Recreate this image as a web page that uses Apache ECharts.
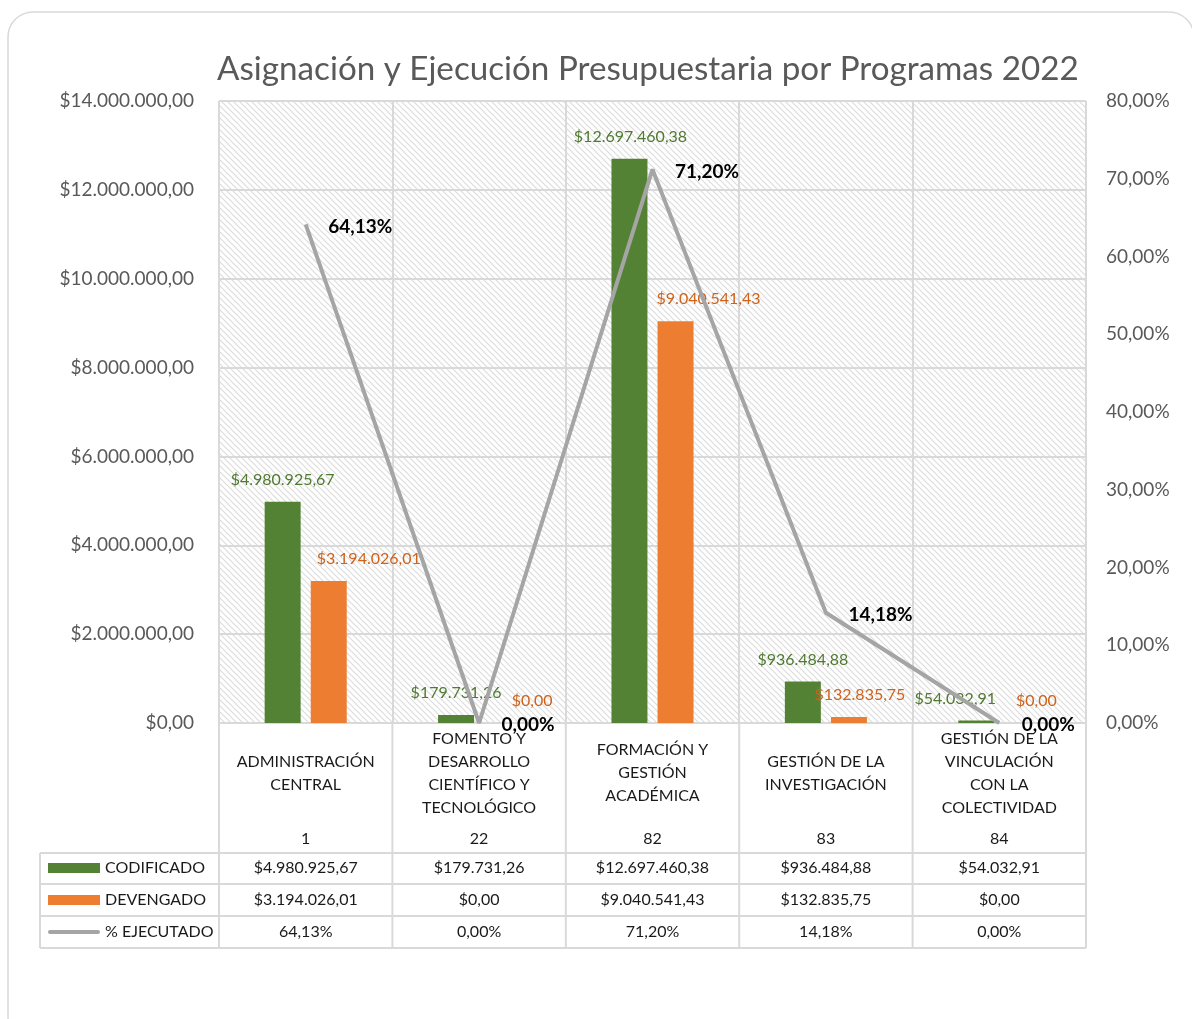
<!DOCTYPE html>
<html>
<head>
<meta charset="utf-8">
<script src="https://cdn.jsdelivr.net/npm/echarts@6/dist/echarts.min.js"></script>
<style>
  html, body { margin: 0; padding: 0; background: #fff; }
  #chart { width: 1192px; height: 1019px; }
</style>
</head>
<body>
<div id="chart"></div>
<script>
// datos del gráfico
const programas = ['ADMINISTRACIÓN\nCENTRAL', 'FOMENTO Y\nDESARROLLO\nCIENTÍFICO Y\nTECNOLÓGICO', 'FORMACIÓN Y\nGESTIÓN\nACADÉMICA', 'GESTIÓN DE LA\nINVESTIGACIÓN', 'GESTIÓN DE LA\nVINCULACIÓN\nCON LA\nCOLECTIVIDAD']
const codigos = ['1', '22', '82', '83', '84']
const codificado = [4980925.67, 179731.26, 12697460.38, 936484.88, 54032.91]
const devengado = [3194026.01, 0, 9040541.43, 132835.75, 0]
const ejecutado = [64.13, 0, 71.20, 14.18, 0]

// desplazamiento horizontal de etiquetas (como en Excel)
const shiftCod = [0, 0, 1, 0, -21]
const shiftDev = [40, 30, 33, 11, 14]

const FONT = 'Lato'
const GRID = { left: 219, right: 106, top: 101, bottom: 296 }

function money(v) {
  const [ent, dec] = v.toFixed(2).split('.')
  return '$' + ent.replace(/\B(?=(\d{3})+(?!\d))/g, '.') + ',' + dec
}
function pct(v) {
  return v.toFixed(2).replace('.', ',') + '%'
}

// trama diagonal del fondo
const tile = document.createElement('canvas')
tile.width = 6
tile.height = 6
const ctx = tile.getContext('2d')
ctx.fillStyle = '#fff'
ctx.fillRect(0, 0, 6, 6)
ctx.strokeStyle = '#dcdcdc'
ctx.lineWidth = 1.1
ctx.beginPath()
ctx.moveTo(-1, -1); ctx.lineTo(7, 7)
ctx.moveTo(-1, 5); ctx.lineTo(1, 7)
ctx.moveTo(5, -1); ctx.lineTo(7, 1)
ctx.stroke()

const chart = echarts.init(document.getElementById('chart'))

chart.setOption({
  animation: false,
  textStyle: { fontFamily: FONT },
  title: {
    text: 'Asignación y Ejecución Presupuestaria por Programas 2022',
    left: 212,
    top: 48,
    textStyle: { fontFamily: FONT, fontSize: 33.2, fontWeight: 'normal', color: '#595959' }
  },
  grid: {
    left: GRID.left, right: GRID.right, top: GRID.top, bottom: GRID.bottom,
    show: true,
    backgroundColor: { image: tile, repeat: 'repeat' },
    borderWidth: 0
  },
  xAxis: [
    {
      type: 'category',
      data: programas,
      axisTick: { show: false },
      axisLine: { lineStyle: { color: '#d9d9d9', width: 2 } },
      splitLine: { show: true, lineStyle: { color: '#d9d9d9', width: 2 } },
      axisLabel: {
        interval: 0, margin: 50, verticalAlign: 'middle',
        fontSize: 16, lineHeight: 23, color: '#1a1a1a', fontFamily: FONT
      }
    },
    {
      type: 'category',
      data: codigos,
      position: 'bottom',
      axisTick: { show: false },
      axisLine: { show: false },
      axisLabel: { interval: 0, margin: 108, fontSize: 16, color: '#1a1a1a', fontFamily: FONT }
    }
  ],
  yAxis: [
    {
      type: 'value',
      min: 0, max: 14000000, interval: 2000000,
      axisLine: { show: false },
      axisTick: { show: false },
      splitLine: { lineStyle: { color: '#d9d9d9', width: 2 } },
      axisLabel: { margin: 25, fontSize: 19, color: '#595959', fontFamily: FONT, formatter: v => money(v) }
    },
    {
      type: 'value',
      min: 0, max: 80, interval: 10,
      axisLine: { show: false },
      axisTick: { show: false },
      splitLine: { show: false },
      axisLabel: { margin: 20, fontSize: 19, color: '#595959', fontFamily: FONT, formatter: v => pct(v) }
    }
  ],
  series: [
    {
      name: 'CODIFICADO',
      type: 'bar',
      barWidth: 36,
      barGap: '28%',
      itemStyle: { color: '#548235' },
      data: codificado.map((v, i) => ({
        value: v,
        label: { offset: [shiftCod[i], 0] }
      })),
      label: {
        show: true, position: 'top', distance: 14,
        fontSize: 16, color: '#4f7a2f', fontFamily: FONT,
        formatter: p => money(p.value)
      }
    },
    {
      name: 'DEVENGADO',
      type: 'bar',
      barWidth: 36,
      itemStyle: { color: '#ED7D31' },
      data: devengado.map((v, i) => ({
        value: v,
        label: { offset: [shiftDev[i], 0] }
      })),
      label: {
        show: true, position: 'top', distance: 14,
        fontSize: 16, color: '#d0621a', fontFamily: FONT,
        formatter: p => money(p.value)
      }
    },
    {
      name: '% EJECUTADO',
      type: 'line',
      yAxisIndex: 1,
      data: ejecutado,
      symbol: 'circle',
      symbolSize: 1,
      showSymbol: true,
      z: 5,
      itemStyle: { color: 'rgba(0,0,0,0)' },
      lineStyle: { color: '#a5a5a5', width: 4 },
      label: {
        show: true, position: 'right', distance: 22, offset: [0, 2],
        fontSize: 19, fontWeight: 'bold', color: '#000', fontFamily: FONT,
        formatter: p => pct(p.value)
      }
    }
  ]
})

// tabla de datos bajo el gráfico
const plotRight = 1192 - GRID.right
const baseY = 1019 - GRID.bottom
const rowLines = [853, 884, 916, 948]
const rowMid = [868, 900, 932]
const g = []
const lineStyle = { stroke: '#d9d9d9', lineWidth: 2 }
const colW = chart.convertToPixel({ xAxisIndex: 0 }, 1) - chart.convertToPixel({ xAxisIndex: 0 }, 0)

rowLines.forEach(y => {
  g.push({ type: 'line', silent: true, shape: { x1: 40, y1: y, x2: plotRight, y2: y }, style: lineStyle })
})
g.push({ type: 'line', silent: true, shape: { x1: 40, y1: rowLines[0], x2: 40, y2: rowLines[3] }, style: lineStyle })
for (let i = 0; i <= programas.length; i++) {
  const x = chart.convertToPixel({ xAxisIndex: 0 }, 0) - colW / 2 + i * colW
  g.push({ type: 'line', silent: true, shape: { x1: x, y1: baseY, x2: x, y2: rowLines[3] }, style: lineStyle })
}

const txt = { fontSize: 16, fontFamily: FONT, fill: '#1a1a1a', verticalAlign: 'middle' }
g.push({ type: 'rect', shape: { x: 48, y: rowMid[0] - 5, width: 52, height: 10 }, style: { fill: '#548235' } })
g.push({ type: 'rect', shape: { x: 48, y: rowMid[1] - 5, width: 52, height: 10 }, style: { fill: '#ED7D31' } })
g.push({ type: 'line', shape: { x1: 50, y1: rowMid[2], x2: 98, y2: rowMid[2] }, style: { stroke: '#a5a5a5', lineWidth: 4, lineCap: 'round' } })
g.push({ type: 'text', x: 105, y: rowMid[0], style: Object.assign({ text: 'CODIFICADO', align: 'left' }, txt) })
g.push({ type: 'text', x: 105, y: rowMid[1], style: Object.assign({ text: 'DEVENGADO', align: 'left' }, txt) })
g.push({ type: 'text', x: 105, y: rowMid[2], style: Object.assign({ text: '% EJECUTADO', align: 'left' }, txt) })

programas.forEach((p, i) => {
  const cx = chart.convertToPixel({ xAxisIndex: 0 }, i)
  g.push({ type: 'text', x: cx, y: rowMid[0], style: Object.assign({ text: money(codificado[i]), align: 'center' }, txt) })
  g.push({ type: 'text', x: cx, y: rowMid[1], style: Object.assign({ text: money(devengado[i]), align: 'center' }, txt) })
  g.push({ type: 'text', x: cx, y: rowMid[2], style: Object.assign({ text: pct(ejecutado[i]), align: 'center' }, txt) })
})

// borde redondeado del área del gráfico
g.push({ type: 'rect', silent: true, shape: { x: 8, y: 12, width: 1186, height: 1030, r: 25 }, style: { fill: 'none', stroke: '#d9d9d9', lineWidth: 1.5 } })

chart.setOption({ graphic: g })
</script>
</body>
</html>
